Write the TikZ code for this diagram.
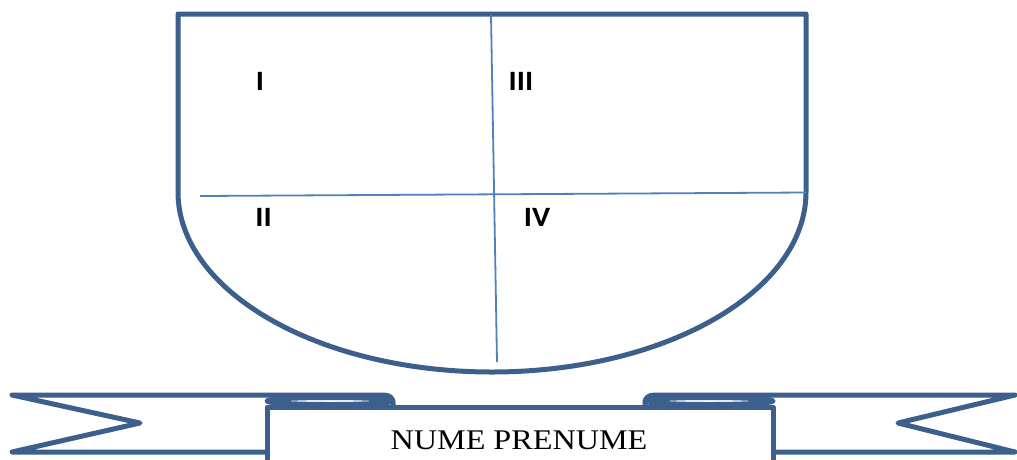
\documentclass[tikz,border=0pt]{standalone}
\usepackage{fontspec}
\setmainfont{Liberation Serif}
\newfontfamily\lblfont{Carlito}
\definecolor{shieldblue}{HTML}{3C5F8C}
\definecolor{thinblue}{HTML}{4F81BD}
\begin{document}
\begin{tikzpicture}[x=1pt,y=-1pt,
  thick outline/.style={draw=shieldblue,line width=5pt,line join=round,line cap=round},
  divider/.style={draw=thinblue,line width=1.8pt},
  quarter/.style={font=\lblfont\bfseries\fontsize{28}{30}\selectfont,inner sep=0pt},
  bannertext/.style={font=\fontsize{28.5}{30}\selectfont,inner sep=0pt}]
\useasboundingbox (0,0) rectangle (1017,459);
\clip (0,0) rectangle (1017,459);
% shield
\path[thick outline,fill=white] (178,14) -- (806,14) -- (806,192)
  .. controls (806,291.4) and (665.4,372) .. (492,372)
  .. controls (318.6,372) and (178,291.4) .. (178,192) -- cycle;
\coordinate (hl) at (200,196);
\coordinate (hr) at (806,192.5);
\coordinate (vt) at (491,15);
\coordinate (vb) at (497,362);
\draw[divider] (hl) -- (hr);
\draw[divider] (vt) -- (vb);
\node[quarter] (q1) at (260,81) {\scalebox{1.1}[1]{I}};
\node[quarter] (q3) at (521,81) {\scalebox{1.1}[1]{III}};
\node[quarter] (q2) at (263.5,217) {\scalebox{1.1}[1]{II}};
\node[quarter] (q4) at (537,217) {\scalebox{1.1}[1]{IV}};
% banner left ribbon
\path[thick outline] (267,452) -- (12,452) -- (140,423) -- (12,395) -- (383,395)
  .. controls (390,395) and (393,398) .. (393,403) -- (393,406);
\path[thick outline] (330,401) ellipse[x radius=63, y radius=3.5];
% banner right ribbon
\path[thick outline] (773,452) -- (1015,452) -- (898,423) -- (1015,395) -- (655,395)
  .. controls (648,395) and (645,398) .. (645,403) -- (645,406);
\path[thick outline] (709,401) ellipse[x radius=64, y radius=3.5];
% central part
\path[thick outline,fill=white] (267,470) -- (267,407) -- (773,407) -- (773,470);
\node[bannertext] (name) at (519,440) {\scalebox{1.13}[1]{NUME PRENUME}};
\end{tikzpicture}
\end{document}
